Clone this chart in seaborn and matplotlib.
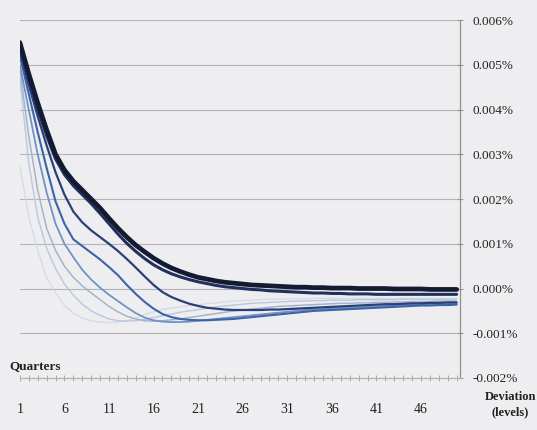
import numpy as np
import pandas as pd
import matplotlib
matplotlib.use("Agg")
import matplotlib.pyplot as plt
import seaborn as sns

# Impulse responses, in thousandths of a percentage point, quarters 1..50
quarters = list(range(1, 51))

resp_a = [5.5, 4.8, 4.15, 3.55, 3.0, 2.65, 2.4, 2.2, 2.0, 1.8, 1.57, 1.35, 1.15, 0.97, 0.82, 0.68, 0.56, 0.46, 0.38, 0.31,
          0.25, 0.21, 0.17, 0.14, 0.12, 0.1, 0.08, 0.07, 0.06, 0.05, 0.04, 0.03, 0.03, 0.02, 0.02, 0.01, 0.01, 0.01, 0.0, 0.0,
          0.0, 0.0, -0.01, -0.01, -0.01, -0.01, -0.02, -0.02, -0.02, -0.02]
resp_b = [5.45, 4.7, 4.02, 3.42, 2.9, 2.55, 2.3, 2.1, 1.9, 1.68, 1.45, 1.22, 1.01, 0.83, 0.67, 0.53, 0.42, 0.33, 0.26, 0.2,
          0.15, 0.11, 0.07, 0.04, 0.02, 0.0, -0.02, -0.03, -0.05, -0.06, -0.07, -0.08, -0.09, -0.1, -0.1, -0.11, -0.11, -0.12,
          -0.12, -0.12, -0.13, -0.13, -0.13, -0.13, -0.13, -0.13, -0.13, -0.13, -0.13, -0.13]
resp_c = [5.3, 4.55, 3.85, 3.2, 2.6, 2.1, 1.72, 1.48, 1.3, 1.15, 1.0, 0.84, 0.66, 0.47, 0.27, 0.08, -0.08, -0.19, -0.27, -0.34,
          -0.39, -0.43, -0.45, -0.47, -0.48, -0.48, -0.48, -0.48, -0.47, -0.47, -0.46, -0.45, -0.44, -0.43, -0.42, -0.41, -0.4,
          -0.39, -0.38, -0.37, -0.36, -0.35, -0.35, -0.34, -0.33, -0.33, -0.32, -0.32, -0.31, -0.31]
resp_d = [5.2, 4.35, 3.5, 2.7, 1.95, 1.45, 1.1, 0.95, 0.8, 0.65, 0.48, 0.3, 0.08, -0.12, -0.3, -0.45, -0.57, -0.64, -0.68, -0.7,
          -0.71, -0.71, -0.7, -0.69, -0.68, -0.66, -0.64, -0.62, -0.6, -0.58, -0.56, -0.54, -0.52, -0.5, -0.49, -0.48, -0.47,
          -0.46, -0.45, -0.44, -0.43, -0.42, -0.41, -0.4, -0.39, -0.38, -0.38, -0.37, -0.37, -0.36]
resp_e = [5.0, 4.0, 3.0, 2.15, 1.45, 1.0, 0.7, 0.42, 0.2, 0.02, -0.14, -0.28, -0.42, -0.55, -0.65, -0.71, -0.74, -0.75, -0.75,
          -0.74, -0.72, -0.7, -0.68, -0.66, -0.64, -0.62, -0.6, -0.58, -0.56, -0.54, -0.52, -0.5, -0.48, -0.47, -0.46, -0.45,
          -0.44, -0.43, -0.42, -0.41, -0.4, -0.39, -0.38, -0.37, -0.36, -0.35, -0.35, -0.34, -0.34, -0.33]
resp_f = [4.9, 3.4, 2.2, 1.35, 0.85, 0.5, 0.25, 0.06, -0.1, -0.25, -0.4, -0.52, -0.62, -0.68, -0.72, -0.73, -0.72, -0.7, -0.68,
          -0.65, -0.62, -0.59, -0.56, -0.53, -0.5, -0.48, -0.46, -0.44, -0.42, -0.4, -0.39, -0.38, -0.37, -0.36, -0.35, -0.34,
          -0.33, -0.33, -0.32, -0.32, -0.31, -0.31, -0.3, -0.3, -0.29, -0.29, -0.29, -0.28, -0.28, -0.28]
resp_g = [4.7, 2.8, 1.6, 0.9, 0.45, 0.1, -0.15, -0.35, -0.5, -0.6, -0.68, -0.72, -0.73, -0.72, -0.69, -0.65, -0.61, -0.57, -0.53,
          -0.5, -0.47, -0.44, -0.41, -0.39, -0.37, -0.35, -0.33, -0.32, -0.31, -0.3, -0.29, -0.28, -0.28, -0.27, -0.27, -0.26,
          -0.26, -0.26, -0.25, -0.25, -0.25, -0.25, -0.25, -0.24, -0.24, -0.24, -0.24, -0.24, -0.24, -0.24]
resp_h = [2.75, 1.6, 0.85, 0.25, -0.1, -0.38, -0.55, -0.66, -0.72, -0.75, -0.76, -0.75, -0.72, -0.66, -0.58, -0.52, -0.47, -0.44,
          -0.41, -0.38, -0.36, -0.34, -0.32, -0.3, -0.28, -0.27, -0.26, -0.25, -0.24, -0.24, -0.23, -0.23, -0.23, -0.22, -0.22,
          -0.22, -0.22, -0.22, -0.22, -0.22, -0.22, -0.22, -0.22, -0.22, -0.22, -0.22, -0.22, -0.22, -0.22, -0.22]

# Lightest series first so the darkest is drawn on top
series_names = ["h", "g", "f", "e", "d", "c", "b", "a"]
series_values = [resp_h, resp_g, resp_f, resp_e, resp_d, resp_c, resp_b, resp_a]
series_colors = ["#d2d9e8", "#b9c7de", "#a5b4c9", "#6e93c4", "#3b64a6", "#2b3f78", "#21305c", "#131b33"]
series_widths = [0.9, 1.0, 1.1, 1.3, 1.5, 1.6, 2.2, 3.4]

y_ticks = [-0.002, -0.001, 0.0, 0.001, 0.002, 0.003, 0.004, 0.005, 0.006]
x_tick_labels = [1, 6, 11, 16, 21, 26, 31, 36, 41, 46]

frames = []
for name, vals in zip(series_names, series_values):
    frames.append(pd.DataFrame({"quarter": quarters,
                                "value": np.array(vals) * 1e-3,
                                "series": name}))
df = pd.concat(frames, ignore_index=True)

bg = "#eeeef1"
sns.set_theme(style="white")
plt.rcParams["font.family"] = ["Liberation Serif", "DejaVu Serif"]

fig = plt.figure(figsize=(5.37, 4.30), dpi=100, facecolor=bg)
ax = fig.add_axes([0.037, 0.121, 0.820, 0.832])
ax.set_facecolor(bg)

for y in y_ticks[1:]:
    ax.axhline(y, color="#b4b4b7", lw=0.8, zorder=0)

sns.lineplot(data=df, x="quarter", y="value", hue="series", size="series",
             hue_order=series_names, size_order=series_names,
             palette=dict(zip(series_names, series_colors)),
             sizes=dict(zip(series_names, series_widths)),
             legend=False, ax=ax, zorder=3)

ax.set_xlim(1, 50.4)
ax.set_ylim(-0.002, 0.006)

ax.yaxis.tick_right()
ax.set_yticks(y_ticks)
ax.set_yticklabels([f"{v:.3f}%" for v in y_ticks], fontsize=9.5, color="#222222")
ax.tick_params(axis="y", which="both", direction="inout", length=4, width=0.8,
               color="#9a9a9a", pad=7, right=True, left=False)

ax.set_xticks(x_tick_labels)
ax.set_xticklabels([str(v) for v in x_tick_labels], fontsize=10, color="#222222")
ax.set_xticks(quarters, minor=True)
ax.tick_params(axis="x", which="both", direction="inout", length=4, width=0.7,
               color="#a8a8a8", pad=16, bottom=True)

for side in ["top", "left"]:
    ax.spines[side].set_visible(False)
ax.spines["right"].set_color("#8f8f8f")
ax.spines["right"].set_linewidth(0.9)
ax.spines["bottom"].set_color("#b4b4b4")
ax.spines["bottom"].set_linewidth(0.9)

ax.set_xlabel("")
ax.set_ylabel("")

fig.text(0.018, 0.148, "Quarters", fontsize=9.5, fontweight="bold", color="#222222",
         ha="left", va="center")
fig.text(0.950, 0.058, "Deviation\n(levels)", fontsize=9, fontweight="bold", color="#222222",
         ha="center", va="center", linespacing=1.35)

fig.savefig("out.png", dpi=100, facecolor=bg)
